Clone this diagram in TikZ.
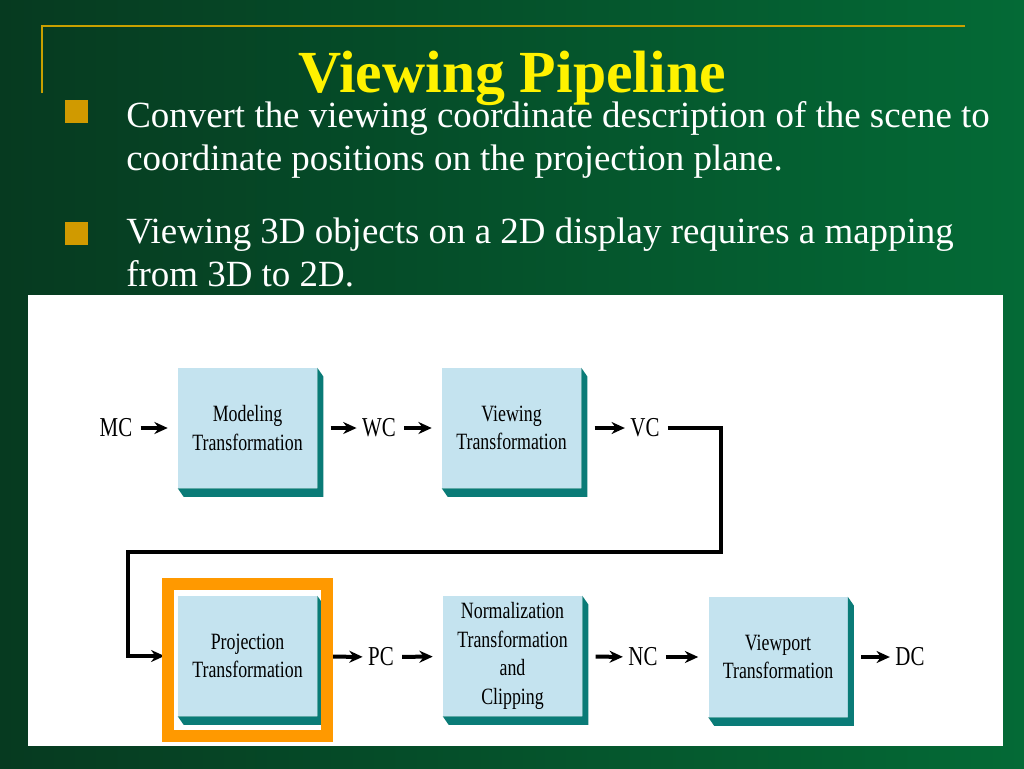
\documentclass[tikz,border=0pt]{standalone}
\usepackage{fontspec}
\setmainfont{Liberation Serif}
\newfontfamily\condfont[FakeStretch=0.765]{Liberation Serif}
\usetikzlibrary{arrows.meta}
\definecolor{bgdark}{RGB}{6,58,32}
\definecolor{bglight}{RGB}{4,106,54}
\definecolor{goldline}{RGB}{200,160,0}
\definecolor{bulletgold}{RGB}{208,154,0}
\definecolor{boxblue}{RGB}{196,227,239}
\definecolor{boxteal}{RGB}{10,123,119}
\definecolor{hilite}{RGB}{255,153,0}
\tikzset{
  stage/.style={rectangle, fill=boxblue, minimum width=104.25pt, minimum height=90pt,
    inner sep=0pt, align=center, font=\condfont\fontsize{17.5}{21.5}\selectfont},
  coord/.style={inner sep=0pt, font=\condfont\fontsize{20.5}{22}\selectfont},
  outarrow/.style={line width=3pt, -{Stealth[length=10pt,width=9pt]}, shorten <=10pt, shorten >=4pt},
  inarrow/.style={line width=3pt, -{Stealth[length=10pt,width=9pt]}, shorten <=6pt, shorten >=7.5pt},
  bulletsq/.style={rectangle, fill=bulletgold, minimum size=17.25pt, inner sep=0pt},
  bodytext/.style={anchor=base west, inner sep=0pt, text=white, font=\fontsize{27.7}{32}\selectfont}
}
\begin{document}
\begin{tikzpicture}[x=0.75pt,y=0.75pt,yscale=-1,xscale=1]
\useasboundingbox (0,0) rectangle (1024,768);

%Background
\shade [left color=bgdark, right color=bglight] (0,0) rectangle (1024,768);
%Straight Lines
\draw [goldline, line width=1.6pt] (42,93) |- (965,26);

% Title
\node [anchor=base, inner sep=0pt, text=yellow, font=\bfseries\fontsize{44.8}{50}\selectfont] (title) at (512,92) {Viewing Pipeline};

% Bullets
\node [bulletsq] (sq1) at (76.5,111.5) {};
\node [bulletsq] (sq2) at (76.5,233.5) {};
\node [bodytext] (b1a) at (126,127) {Convert the viewing coordinate description of the scene to};
\node [bodytext] (b1b) at (126,170) {coordinate positions on the projection plane.};
\node [bodytext] (b2a) at (126,243) {Viewing 3D objects on a 2D display requires a mapping};
\node [bodytext] (b2b) at (126,286) {from 3D to 2D.};

%Shape: Rectangle
\fill [white] (28,295) rectangle (1003,746);

% Stages
\node [stage] (model) at (247.5,428) {Modeling\\Transformation};
\node [stage] (view) at (511.5,428) {Viewing\\Transformation};
\node [stage] (proj) at (247.5,656) {Projection\\Transformation};
\node [stage] (norm) at (512.5,656) {Normalization\\Transformation\\and\\Clipping};
\node [stage] (port) at (778,657) {Viewport\\Transformation};
\foreach \n in {model,view,proj,norm,port}
  \fill [boxteal] (\n.north east) -- ([xshift=4.5pt,yshift=6.5pt]\n.north east)
    -- ([xshift=4.5pt,yshift=6.5pt]\n.south east) -- ([xshift=4.5pt,yshift=6.5pt]\n.south west)
    -- (\n.south west) -- (\n.south east) -- cycle;

% Coordinate labels
\node [coord] (mc) at (116,428) {MC};
\node [coord] (wc) at (379,428) {WC};
\node [coord] (vc) at (645,428) {VC};
\node [coord] (pc) at (381,657) {PC};
\node [coord] (nc) at (643,657) {NC};
\node [coord] (dc) at (910,657) {DC};

% Arrows
\draw [inarrow] (mc) -- (model);
\draw [outarrow] (model) -- (wc);
\draw [inarrow] (wc) -- (view);
\draw [outarrow] (view) -- (vc);
\draw [outarrow] (proj) -- (pc);
\draw [inarrow] (pc) -- (norm);
\draw [outarrow] (norm) -- (nc);
\draw [inarrow] (nc) -- (port);
\draw [outarrow] (port) -- (dc);

%Straight Lines
\coordinate (loopR) at (721,552);
\coordinate (loopL) at (128,552);
\draw [line width=3pt, -{Stealth[length=10pt,width=9pt]}, shorten <=6pt, shorten >=10pt] (vc.east) -| (loopR) -- (loopL) |- (proj.west);

%Shape: Rectangle
\draw [hilite, line width=9pt] ([xshift=-7.5pt,yshift=-9pt]proj.north west) rectangle ([xshift=7.5pt,yshift=15pt]proj.south east);

\end{tikzpicture}
\end{document}
